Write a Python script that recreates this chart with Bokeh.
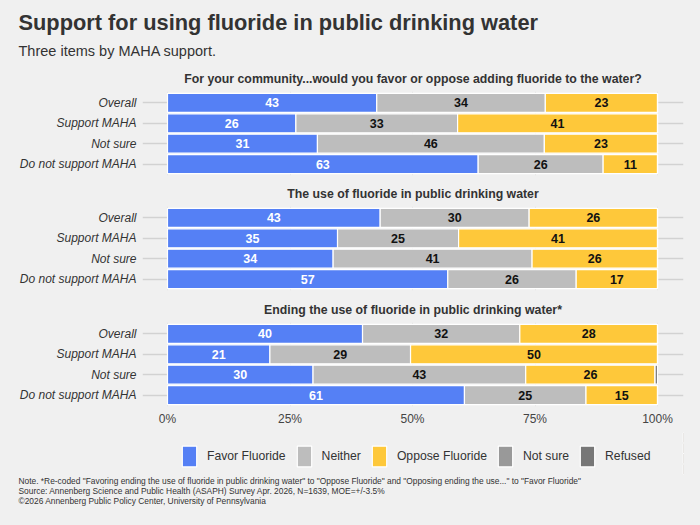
from bokeh.plotting import figure
from bokeh.models import (ColumnDataSource, FactorRange, Range1d, LabelSet, Title,
                          Legend, LegendItem, FixedTicker)
from bokeh.core.properties import value
from bokeh.layouts import column
from bokeh.embed import file_html
from bokeh.resources import INLINE
import numpy as np

# ---------------- data ----------------
groups = ["Overall", "Support MAHA", "Not sure", "Do not support MAHA"]
series = ["Favor Fluoride", "Neither", "Oppose Fluoride", "Not sure", "Refused"]

q1_title = "For your community...would you favor or oppose adding fluoride to the water?"
q1_favor = [42.7, 26.2, 30.6, 63.4]
q1_neither = [34.4, 33.0, 46.3, 25.5]
q1_oppose = [22.9, 40.8, 23.1, 11.1]
q1_notsure = [0.0, 0.0, 0.0, 0.0]
q1_refused = [0.0, 0.0, 0.0, 0.0]

q2_title = "The use of fluoride in public drinking water"
q2_favor = [43.4, 34.7, 33.8, 57.2]
q2_neither = [30.4, 24.7, 40.6, 26.2]
q2_oppose = [26.2, 40.6, 25.6, 16.6]
q2_notsure = [0.0, 0.0, 0.0, 0.0]
q2_refused = [0.0, 0.0, 0.0, 0.0]

q3_title = "Ending the use of fluoride in public drinking water*"
q3_favor = [39.8, 20.9, 29.7, 60.6]
q3_neither = [32.1, 28.7, 43.4, 24.8]
q3_oppose = [28.1, 50.4, 26.4, 14.6]
q3_notsure = [0.0, 0.0, 0.0, 0.0]
q3_refused = [0.0, 0.0, 0.5, 0.0]

x_ticks = [0, 25, 50, 75, 100]
x_tick_labels = ["0%", "25%", "50%", "75%", "100%"]

title_text = "Support for using fluoride in public drinking water"
subtitle_text = "Three items by MAHA support."
note_lines = [
    'Note. *Re-coded "Favoring ending the use of fluoride in public drinking water" to "Oppose Fluoride" and "Opposing ending the use..." to "Favor Fluoride"',
    "Source: Annenberg Science and Public Health (ASAPH) Survey Apr. 2026, N=1639, MOE=+/-3.5%",
    "\u00a92026 Annenberg Public Policy Center, University of Pennsylvania",
]

# ---------------- style ----------------
FONT = "Liberation Sans"
BG = "#f0f0f0"
TXT = "#333333"
colors = ["#5580f5", "#bdbdbd", "#fec83a", "#999999", "#777777"]
label_colors = ["#ffffff", "#111111", "#111111", "#111111", "#111111"]
keys = ["favor", "neither", "oppose", "notsure", "refused"]
XR = (-5.1, 105.3)
factors = list(reversed(groups))


def base_fig(height, top, bottom, x_range, y_range, **kw):
    return figure(width=700, height=height, y_range=y_range, x_range=x_range,
                  output_backend="svg", toolbar_location=None,
                  min_border_left=142, min_border_right=17, min_border_top=top,
                  min_border_bottom=bottom, background_fill_color=BG, border_fill_color=BG,
                  outline_line_color=None, styles={"background-color": BG}, **kw)


def make_panel(ptitle, vals, height, top, bottom, show_axis, headers=False):
    p = base_fig(height, top, bottom, Range1d(*XR), FactorRange(*factors, range_padding=0.03))
    data = {"group": groups}
    for k, v in zip(keys, vals):
        data[k] = v
    src = ColumnDataSource(data)
    p.hbar_stack(keys, y="group", height=0.93, source=src, color=colors,
                 line_color="#ffffff", line_width=1.2)

    # value labels
    arr = np.array(vals)
    cum = np.cumsum(arr, axis=0)
    mids = cum - arr / 2.0
    lx, ly, lt, lc = [], [], [], []
    for si in range(arr.shape[0]):
        for gi in range(arr.shape[1]):
            if arr[si, gi] >= 3:
                lx.append(mids[si, gi]); ly.append(groups[gi])
                lt.append(f"{round(arr[si, gi]):d}"); lc.append(label_colors[si])
    vsrc = ColumnDataSource(dict(x=lx, y=ly, t=lt, c=lc))
    p.add_layout(LabelSet(x="x", y="y", text="t", source=vsrc, text_color="c",
                          text_align="center", text_baseline="middle",
                          text_font=value(FONT), text_font_size=value("12.5px"),
                          text_font_style=value("bold")))

    # category labels
    p.yaxis.axis_line_color = None
    p.yaxis.major_tick_line_color = None
    p.yaxis.minor_tick_line_color = None
    p.yaxis.major_tick_out = 0
    p.yaxis.major_tick_in = 0
    p.yaxis.major_label_standoff = 6
    p.yaxis.major_label_text_font = FONT
    p.yaxis.major_label_text_font_size = "12px"
    p.yaxis.major_label_text_font_style = "italic"
    p.yaxis.major_label_text_color = TXT

    p.ygrid.grid_line_color = "#d2d2d2"
    p.ygrid.grid_line_width = 1.5
    p.xgrid.ticker = FixedTicker(ticks=x_ticks)
    p.xgrid.grid_line_color = "#e2e2e2"
    p.xaxis.ticker = FixedTicker(ticks=x_ticks)
    if show_axis:
        p.xaxis.major_label_overrides = {t: l for t, l in zip(x_ticks, x_tick_labels)}
        p.xaxis.axis_line_color = None
        p.xaxis.major_tick_line_color = None
        p.xaxis.minor_tick_line_color = None
        p.xaxis.major_tick_out = 0
        p.xaxis.major_tick_in = 0
        p.xaxis.major_label_standoff = 5
        p.xaxis.major_label_text_font = FONT
        p.xaxis.major_label_text_font_size = "12px"
        p.xaxis.major_label_text_color = "#444444"
    else:
        p.xaxis.visible = False

    p.add_layout(Title(text=ptitle, align="center", text_font=FONT, text_font_size="12.3px",
                       text_font_style="bold", text_color=TXT, standoff=11), "above")
    if headers:
        p.add_layout(Title(text=subtitle_text, align="left", offset=-124, text_font=FONT,
                           text_font_size="14.5px", text_font_style="normal", text_color=TXT,
                           standoff=12), "above")
        p.add_layout(Title(text=title_text, align="left", offset=-124, text_font=FONT,
                           text_font_size="21.8px", text_font_style="bold", text_color=TXT,
                           standoff=0), "above")
    return p, src


p1, _ = make_panel(q1_title, [q1_favor, q1_neither, q1_oppose, q1_notsure, q1_refused],
                   178, 91, 3, False, headers=True)
p2, _ = make_panel(q2_title, [q2_favor, q2_neither, q2_oppose, q2_notsure, q2_refused],
                   116, 28, 4, False)
p3, src3 = make_panel(q3_title, [q3_favor, q3_neither, q3_oppose, q3_notsure, q3_refused],
                      138, 28, 26, True)

# ---------------- footer: legend + notes ----------------
# legend swatches come from the last panel's data, drawn outside this strip's visible x range
p4 = base_fig(93, 0, 51, Range1d(-300, -200), FactorRange(*factors),
              x_axis_location=None, y_axis_location=None)
p4.grid.visible = False
rends = p4.hbar_stack(keys, y="group", height=0.9, source=src3, color=colors,
                      line_color="#ffffff", line_width=1.2)
items = [LegendItem(label=s, renderers=[r]) for s, r in zip(series, rends)]
leg = Legend(items=items, orientation="horizontal", location=(38, 5),
             glyph_width=18, glyph_height=26, label_standoff=9, spacing=9,
             padding=0, margin=0, background_fill_alpha=0, border_line_color=None,
             label_text_font=FONT, label_text_font_size="12.2px", label_text_color=TXT)
p4.add_layout(leg, "center")
for line in note_lines:
    p4.add_layout(Title(text=line, align="left", offset=-124, text_font=FONT,
                        text_font_size="8.4px", text_font_style="normal", text_color=TXT,
                        standoff=-2), "below")

layout = column(p1, p2, p3, p4, spacing=0, styles={"background-color": BG})
open("out.html", "w").write(file_html(layout, INLINE))
